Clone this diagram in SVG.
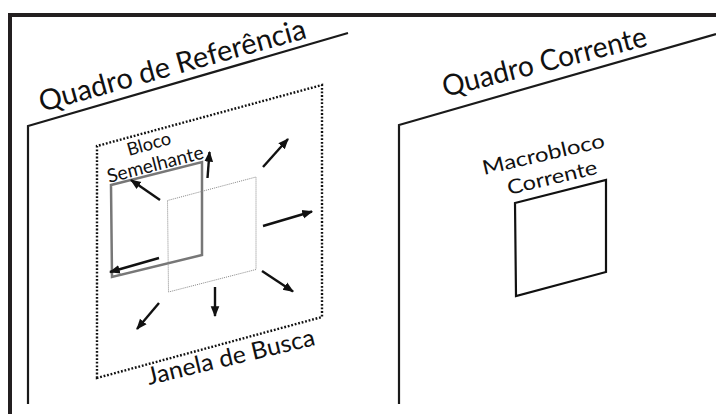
<svg xmlns="http://www.w3.org/2000/svg" width="716" height="414" viewBox="0 0 716 414">
<style>
.lbl{font-family:"Lato","DejaVu Sans","Liberation Sans",sans-serif;font-weight:400;fill:#111;}
.frame{fill:none;stroke:#1a1a1a;stroke-width:2.2;}
.arr{stroke:#111;stroke-width:2.4;fill:none;marker-end:url(#ah);}
</style>
<defs>
<marker id="ah" viewBox="0 0 10 10" refX="9" refY="5" markerWidth="4.5" markerHeight="4.5" orient="auto" markerUnits="strokeWidth">
<path d="M0,1 L10,5 L0,9 Z" fill="#111"/>
</marker>
</defs>
<rect width="716" height="414" fill="#fff"/>
<g id="border">
<path d="M10,414 V15 H716" fill="none" stroke="#231f20" stroke-width="4"/>
</g>
<g id="quadro-referencia">
<path class="frame" d="M28,404 V126 L348,33"/>
<text class="lbl" font-size="29" textLength="276" lengthAdjust="spacingAndGlyphs" transform="translate(42,112) rotate(-15.6)">Quadro de Referência</text>
</g>
<g id="janela-busca">
<path d="M97,378 V146 L322,85 V317 Z" fill="none" stroke="#111" stroke-width="2.4" stroke-dasharray="1.8 1.8"/>
<text class="lbl" font-size="24" textLength="172" lengthAdjust="spacingAndGlyphs" transform="translate(149,385) rotate(-13.5)">Janela de Busca</text>
</g>
<g id="bloco-semelhante">
<path d="M111,185 L202,162 V255 L112,277 Z" fill="none" stroke="#777" stroke-width="2.5"/>
<text class="lbl" font-size="18" textLength="45" lengthAdjust="spacingAndGlyphs" transform="translate(129,156) rotate(-16)">Bloco</text>
<text class="lbl" font-size="19" textLength="99" lengthAdjust="spacingAndGlyphs" transform="translate(109,183) rotate(-14.5)">Semelhante</text>
</g>
<g id="bloco-central">
<path d="M167.5,200.5 L256,177 V269.5 L168.5,292 Z" fill="none" stroke="#888" stroke-width="1" stroke-dasharray="1 1"/>
</g>
<g id="connectors">
<line class="arr" x1="160" y1="200" x2="131" y2="180"/>
<line class="arr" x1="207.5" y1="178" x2="209.5" y2="152"/>
<line class="arr" x1="263" y1="167" x2="288" y2="139"/>
<line class="arr" x1="263" y1="226" x2="312" y2="211.5"/>
<line class="arr" x1="262" y1="271" x2="293" y2="291.5"/>
<line class="arr" x1="215" y1="287" x2="215" y2="316"/>
<line class="arr" x1="159" y1="303" x2="137" y2="329"/>
<line class="arr" x1="159" y1="258" x2="110" y2="272"/>
</g>
<g id="quadro-corrente">
<path class="frame" d="M399,404 V125 L716,34"/>
<text class="lbl" font-size="29" textLength="210" lengthAdjust="spacingAndGlyphs" transform="translate(445,97) rotate(-14.2)">Quadro Corrente</text>
</g>
<g id="macrobloco-corrente">
<path d="M515,203 L606,180 V272 L516,296 Z" fill="none" stroke="#111" stroke-width="2.2"/>
<text class="lbl" font-size="20" textLength="125" lengthAdjust="spacingAndGlyphs" transform="translate(484,175) rotate(-13)">Macrobloco</text>
<text class="lbl" font-size="20" textLength="92" lengthAdjust="spacingAndGlyphs" transform="translate(509,195) rotate(-13.5)">Corrente</text>
</g>
</svg>
